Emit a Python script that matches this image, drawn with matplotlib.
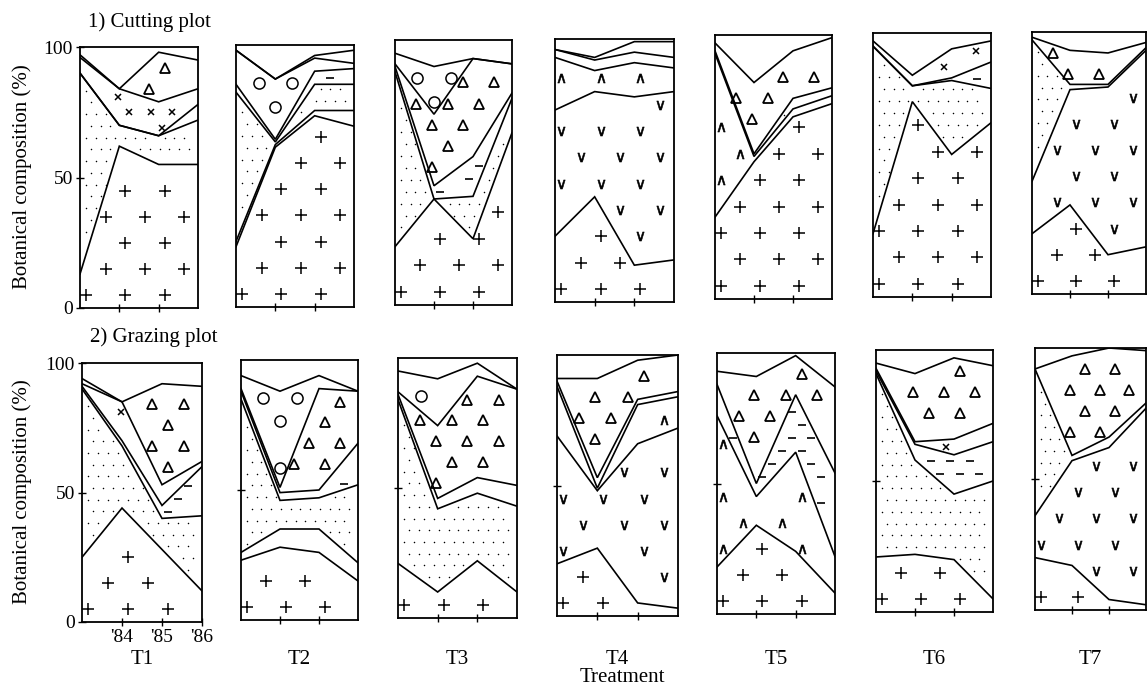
import numpy as np
import matplotlib
matplotlib.use("Agg")
import matplotlib.pyplot as plt

plt.rcParams['font.family'] = ['Liberation Serif', 'DejaVu Serif']

# sampling years: start of trial, '84, '85, '86
YEARS = [83, 84, 85, 86]
YEAR_LABELS = ["'84", "'85", "'86"]
TREATMENTS = ["T1", "T2", "T3", "T4", "T5", "T6", "T7"]

# cumulative upper boundary (%) of each species layer, bottom to top
# (whatever is left above the last layer up to 100 = other species)
CUT_T1 = [("plus", [13, 62, 55, 55]), ("dots", [90, 70, 66, 72]), ("dash", [90, 70, 66, 78]),
          ("cross", [96, 84, 79, 84]), ("tri", [97, 84, 98, 95])]
CUT_T2 = [("plus", [23, 61, 73, 69]), ("hat", [25, 62, 75, 75]), ("dots", [82, 63, 85, 85]),
          ("dash", [85, 64, 90, 91]), ("circ", [98, 87, 95, 93]), ("tri", [98, 87, 96, 98])]
CUT_T3 = [("plus", [22, 40, 25, 65]), ("dots", [88, 40, 41, 78]), ("dash", [90, 45, 56, 80]),
          ("tri", [91, 72, 93, 91]), ("circ", [95, 90, 93, 91])]
CUT_T4 = [("plus", [25, 40, 14, 16]), ("vee", [73, 80, 78, 80]), ("hat", [93, 88, 91, 89]),
          ("cross", [96, 92, 95, 93]), ("tri", [96, 93, 99, 99])]
CUT_T5 = [("plus", [31, 52, 69, 74]), ("hat", [93, 54, 72, 77]), ("dots", [94, 55, 76, 80]),
          ("tri", [97, 82, 94, 99])]
CUT_T6 = [("plus", [24, 74, 54, 66]), ("dots", [95, 80, 82, 79]), ("dash", [95, 80, 83, 89]),
          ("cross", [97, 84, 94, 97])]
CUT_T7 = [("plus", [23, 34, 15, 18]), ("vee", [43, 78, 79, 93]), ("dots", [97, 80, 80, 94]),
          ("tri", [98, 93, 92, 96])]

GRAZE_T1 = [("plus", [25, 44, 28, 12]), ("dots", [90, 68, 40, 41]), ("dash", [91, 70, 45, 60]),
            ("cross", [92, 85, 53, 62]), ("tri", [94, 85, 92, 91])]
GRAZE_T2 = [("plus", [23, 28, 26, 15]), ("hat", [26, 35, 35, 22]), ("dots", [85, 46, 47, 52]),
            ("dash", [88, 49, 50, 68]), ("tri", [89, 51, 89, 88]), ("circ", [94, 88, 94, 88])]
GRAZE_T3 = [("plus", [21, 10, 22, 10]), ("dots", [84, 42, 48, 43]), ("dash", [86, 46, 54, 51]),
            ("tri", [87, 74, 93, 88]), ("circ", [95, 92, 98, 88])]
GRAZE_T4 = [("plus", [20, 26, 5, 3]), ("vee", [69, 48, 66, 72]), ("hat", [88, 49, 81, 84]),
            ("cross", [90, 53, 83, 86]), ("tri", [91, 91, 98, 100])]
GRAZE_T5 = [("plus", [18, 34, 24, 8]), ("hat", [76, 45, 62, 22]), ("dash", [88, 50, 84, 54]),
            ("tri", [93, 91, 99, 87])]
GRAZE_T6 = [("plus", [21, 22, 20, 5]), ("dots", [91, 58, 45, 50]), ("dash", [92, 64, 60, 65]),
            ("cross", [93, 65, 66, 72]), ("tri", [95, 91, 97, 94])]
GRAZE_T7 = [("plus", [20, 17, 4, 2]), ("vee", [36, 57, 62, 77]), ("dots", [92, 59, 66, 79]),
            ("tri", [92, 97, 100, 99])]

CUTTING = [CUT_T1, CUT_T2, CUT_T3, CUT_T4, CUT_T5, CUT_T6, CUT_T7]
GRAZING = [GRAZE_T1, GRAZE_T2, GRAZE_T3, GRAZE_T4, GRAZE_T5, GRAZE_T6, GRAZE_T7]

# symbol used to mark each species area: marker kwargs, lattice step (x, y), margin in %
SYMBOLS = {
    "plus":  (dict(marker="+", ms=8, mew=1.1), (1.0, 10), 4),
    "vee":   (dict(marker=r"$\vee$", ms=6.5, mew=0.4), (1.0, 10), 4),
    "hat":   (dict(marker=r"$\wedge$", ms=6.5, mew=0.4), (1.0, 10), 3),
    "dots":  (dict(marker=".", ms=2.2, mew=0), (0.25, 4.5), 1.5),
    "dash":  (dict(marker="_", ms=5.5, mew=1.2), (0.5, 5), 2),
    "cross": (dict(marker="x", ms=5, mew=1.1), (0.55, 6), 2),
    "circ":  (dict(marker="o", ms=8, mew=1.1, mfc="none"), (0.85, 9), 3.5),
    "tri":   (dict(marker="^", ms=7, mew=1.3, mfc="none"), (0.8, 8), 3),
}

W, H = 1148, 685
# panel boxes in pixels: left, right, top, bottom
ROW1 = [(80, 198, 47, 308), (236, 354, 45, 307), (395, 512, 40, 305), (555, 674, 39, 302),
        (715, 832, 35, 299), (873, 991, 33, 297), (1032, 1146, 32, 294)]
ROW2 = [(82, 202, 363, 622), (241, 358, 360, 620), (398, 517, 358, 618), (557, 678, 355, 616),
        (717, 835, 353, 614), (876, 993, 350, 612), (1035, 1146, 348, 610)]


def fill_symbols(ax, name, lo, hi):
    kw, (dx, dy), m = SYMBOLS[name]
    px, py = [], []
    for i, y in enumerate(np.arange(dy / 2, 100, dy)):
        off = (dx / 2) * (i % 2)
        for x in np.arange(83.15 + off, 85.9, dx):
            ylo = np.interp(x, YEARS, lo)
            yhi = np.interp(x, YEARS, hi)
            if ylo + m < y < yhi - m:
                px.append(x)
                py.append(y)
    if px:
        ax.plot(px, py, linestyle="none", color="k", **kw)


def draw_panel(ax, layers):
    lower = np.zeros(len(YEARS))
    for name, tops in layers:
        upper = np.array(tops, dtype=float)
        fill_symbols(ax, name, lower, upper)
        ax.plot(YEARS, upper, color="k", lw=1.2, solid_joinstyle="miter")
        lower = upper
    ax.set_xlim(83, 86)
    ax.set_ylim(0, 100)
    for s in ax.spines.values():
        s.set_linewidth(1.3)
    ax.tick_params(direction="inout", length=6, width=1, labelsize=14, pad=2)


fig = plt.figure(figsize=(W / 100, H / 100), dpi=100)

for row, (boxes, panels) in enumerate([(ROW1, CUTTING), (ROW2, GRAZING)]):
    for j, ((l, r, t, b), layers) in enumerate(zip(boxes, panels)):
        ax = fig.add_axes([l / W, 1 - b / H, (r - l) / W, (b - t) / H])
        draw_panel(ax, layers)
        ax.set_xticks([84, 85])
        ax.set_xticklabels([])
        if j == 0:
            ax.set_yticks([0, 50, 100])
            ax.set_yticklabels(["0", "50", "100"])
        else:
            ax.set_yticks([50] if row == 1 else [])
            ax.set_yticklabels([])
        if row == 1 and j == 0:
            ax.set_xticks([84, 85, 86])
            ax.set_xticklabels(YEAR_LABELS)
        if row == 1:
            fig.text((l + r) / 2 / W, 1 - 660 / H, TREATMENTS[j],
                     ha="center", va="center", fontsize=15)

fig.text(88 / W, 1 - 22 / H, "1) Cutting plot", ha="left", va="center", fontsize=15)
fig.text(90 / W, 1 - 337 / H, "2) Grazing plot", ha="left", va="center", fontsize=15)
for yc in (177, 492):
    fig.text(22 / W, 1 - yc / H, "Botanical composition (%)", rotation=90,
             ha="center", va="center", fontsize=15)
fig.text(622 / W, 1 - 677 / H, "Treatment", ha="center", va="center", fontsize=15)

fig.savefig("out.png", dpi=100)
